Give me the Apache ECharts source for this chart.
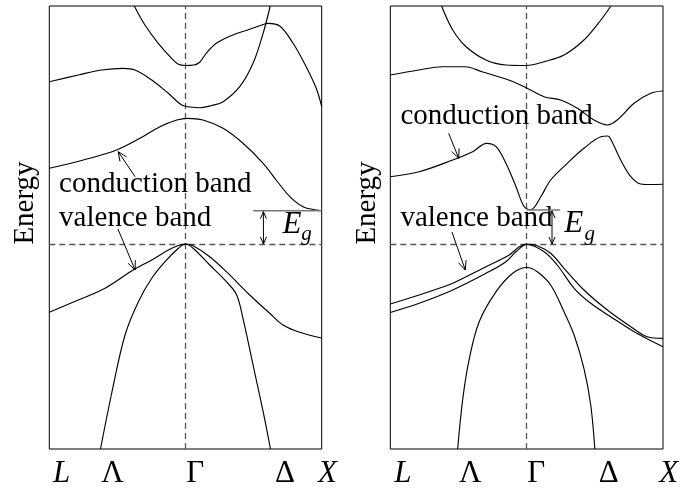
<!DOCTYPE html>
<html>
<head>
<meta charset="utf-8">
<script src="https://cdn.jsdelivr.net/npm/echarts@6/dist/echarts.min.js"></script>
<style>
  html, body { margin: 0; padding: 0; background: #fff; }
  #chart { width: 684px; height: 488px; }
</style>
</head>
<body>
<div id="chart"></div>
<script>
// Band structures along the L – Γ – X path.
// k: fraction of the path (0 = L, 0.5 = Γ, 1 = X); E: energy relative to the valence-band top.

// ---- left panel (direct-gap-like) ----
const leftUpperA = [[0.312,2.38],[0.351,2.19],[0.400,2.007],[0.449,1.857],[0.474,1.797],[0.500,1.785],
  [0.531,1.79],[0.553,1.82],[0.576,1.907],[0.613,2.007],[0.674,2.09],[0.736,2.147],[0.791,2.20],
  [0.803,2.207],[0.846,2.18],[0.895,2.007],[0.943,1.773],[0.980,1.557],[1.0,1.373]];
const leftUpperB = [[0,1.623],[0.1065,1.69],[0.192,1.74],[0.271,1.757],[0.315,1.74],[0.376,1.64],
  [0.437,1.507],[0.486,1.39],[0.517,1.37],[0.553,1.363],[0.597,1.385],[0.638,1.423],[0.699,1.573],
  [0.748,1.807],[0.785,2.107],[0.811,2.38]];
const leftConduction = [[0,0.757],[0.125,0.84],[0.247,0.94],[0.333,1.057],[0.406,1.173],[0.468,1.24],
  [0.508,1.257],[0.564,1.24],[0.638,1.157],[0.711,1.007],[0.785,0.807],[0.833,0.64],[0.883,0.473],
  [0.931,0.373],[0.980,0.34],[1.0,0.333]];
const leftValenceA = [[0,-0.683],[0.1065,-0.56],[0.2045,-0.443],[0.308,-0.26],[0.376,-0.16],[0.437,-0.06],
  [0.474,-0.015],[0.5,0],[0.528,-0.017],[0.589,-0.127],[0.650,-0.277],[0.736,-0.51],[0.809,-0.693],
  [0.858,-0.81],[0.919,-0.883],[1.0,-0.94]];
const leftValenceB = [[0.188,-2.05],[0.230,-1.48],[0.278,-0.91],[0.327,-0.577],[0.376,-0.343],[0.425,-0.177],
  [0.474,-0.043],[0.5,0],[0.528,-0.043],[0.589,-0.21],[0.650,-0.377],[0.687,-0.505],[0.711,-0.743],
  [0.748,-1.21],[0.785,-1.677],[0.812,-2.05]];
const leftGap = 0.333;

// ---- right panel (indirect-gap-like) ----
const rightUpperA = [[0.188,2.38],[0.229,2.14],[0.278,1.973],[0.351,1.84],[0.424,1.79],[0.5,1.785],
  [0.564,1.823],[0.637,1.89],[0.710,2.04],[0.772,2.24],[0.809,2.38]];
const rightUpperB = [[0,1.69],[0.104,1.74],[0.190,1.773],[0.275,1.773],[0.336,1.723],[0.434,1.64],
  [0.5,1.56],[0.564,1.473],[0.625,1.44],[0.686,1.357],[0.747,1.24],[0.796,1.19],[0.832,1.24],
  [0.894,1.407],[0.955,1.507],[1.0,1.53]];
const rightConduction = [[0,0.673],[0.106,0.723],[0.229,0.84],[0.302,0.923],[0.353,1.007],[0.388,0.973],
  [0.424,0.807],[0.461,0.573],[0.491,0.373],[0.516,0.345],[0.552,0.473],[0.588,0.64],[0.649,0.807],
  [0.710,0.957],[0.772,1.073],[0.798,1.08],[0.810,1.04],[0.845,0.84],[0.882,0.673],[0.918,0.60],
  [0.952,0.595],[1.0,0.597]];
const rightValenceA = [[0,-0.60],[0.106,-0.51],[0.190,-0.433],[0.229,-0.393],[0.351,-0.227],[0.436,-0.11],
  [0.473,-0.027],[0.5,0],[0.539,-0.017],[0.588,-0.093],[0.637,-0.243],[0.710,-0.46],[0.796,-0.66],
  [0.882,-0.827],[0.942,-0.927],[1.0,-0.943]];
const rightValenceB = [[0,-0.685],[0.106,-0.593],[0.229,-0.46],[0.351,-0.293],[0.424,-0.177],[0.461,-0.077],
  [0.5,-0.005],[0.564,-0.077],[0.612,-0.21],[0.674,-0.443],[0.735,-0.593],[0.808,-0.727],[0.894,-0.877],
  [1.0,-1.027]];
const rightSplitOff = [[0.247,-2.05],[0.266,-1.543],[0.290,-1.143],[0.326,-0.777],[0.388,-0.477],[0.449,-0.293],
  [0.5,-0.235],[0.539,-0.277],[0.588,-0.41],[0.637,-0.677],[0.674,-0.91],[0.710,-1.243],[0.735,-1.61],
  [0.750,-2.05]];
const rightGap = 0.34;

// ---- tick labels along the k path ----
const kLabels = ['L', 'Λ', 'Γ', 'Δ', 'X'];
const kLabelItalic = [true, false, false, false, true];
const kLabelPosLeft = [0.0455, 0.232, 0.536, 0.865, 1.021];
const kLabelPosRight = [0.046, 0.293, 0.535, 0.801, 1.021];

const axisTitle = 'Energy';
const condText = 'conduction band';
const valText = 'valence band';

const E_MIN = -2.05, E_MAX = 2.38;
const FONT = '"Liberation Serif", "Times New Roman", serif';

const panels = [
  {
    bands: [leftUpperA, leftUpperB, leftConduction, leftValenceA, leftValenceB],
    gap: leftGap, tickPos: kLabelPosLeft,
    condAt: [0.036, 0.50], valAt: [0.036, 0.16],
    condArrow: [[0.315, 0.673], [0.253, 0.923]],
    valArrow: [[0.252, 0.15], [0.315, -0.26]],
    gapLine: [0.748, 1.0], gapArrowK: 0.786,
    eAt: [0.856, 0.09], gAt: [0.925, 0.025],
    titleAt: [-0.087, 0.41]
  },
  {
    bands: [rightUpperA, rightUpperB, rightConduction, rightValenceA, rightValenceB, rightSplitOff],
    gap: rightGap, tickPos: kLabelPosRight,
    condAt: [0.037, 1.18], valAt: [0.037, 0.16],
    condArrow: [[0.214, 1.107], [0.251, 0.857]],
    valArrow: [[0.226, 0.12], [0.275, -0.26]],
    gapLine: [0.5, 0.623], gapArrowK: 0.593,
    eAt: [0.638, 0.10], gAt: [0.712, 0.025],
    titleAt: [-0.085, 0.41]
  }
];

const chart = echarts.init(document.getElementById('chart'), null, { renderer: 'canvas' });

const grids = [
  { left: 49.3, top: 6, width: 272.4, height: 443 },
  { left: 390.3, top: 6, width: 272.7, height: 443 }
].map(g => Object.assign(g, { show: true, borderColor: '#000', borderWidth: 1, backgroundColor: 'transparent' }));

const xAxes = panels.map((p, i) => ({ type: 'value', gridIndex: i, min: 0, max: 1, show: false }));
const yAxes = panels.map((p, i) => ({ type: 'value', gridIndex: i, min: E_MIN, max: E_MAX, show: false }));

const series = [];
panels.forEach((p, i) => {
  p.bands.forEach((band, j) => {
    const s = {
      type: 'line', xAxisIndex: i, yAxisIndex: i, data: band,
      smooth: 0.35, showSymbol: false, symbol: 'none',
      lineStyle: { color: '#000', width: 1.15 }, silent: true, z: 3
    };
    if (j === 0) {
      // Γ point and valence-band top reference lines
      s.markLine = {
        silent: true, symbol: 'none', label: { show: false },
        lineStyle: { color: '#555', width: 1.3, type: [6, 4] },
        data: [{ xAxis: 0.5 }, { yAxis: 0 }],
        z: 2
      };
    }
    series.push(s);
  });
});

chart.setOption({
  animation: false,
  backgroundColor: '#fff',
  grid: grids, xAxis: xAxes, yAxis: yAxes, series: series
});

// ---- annotations: text, arrows, band-gap marker ----
function px(i, k, e) { return chart.convertToPixel({ gridIndex: i }, [k, e]); }

function head(tip, from, len, half) {
  const dx = tip[0] - from[0], dy = tip[1] - from[1];
  const d = Math.hypot(dx, dy), ux = dx / d, uy = dy / d, nx = -uy, ny = ux;
  return [[tip[0] - ux * len + nx * half, tip[1] - uy * len + ny * half], tip,
          [tip[0] - ux * len - nx * half, tip[1] - uy * len - ny * half]];
}

function text(str, pos, size, opts) {
  opts = opts || {};
  return {
    type: 'text', x: pos[0], y: pos[1], rotation: opts.rotation || 0, z: 100, silent: true,
    style: {
      text: str, fill: '#000', fontSize: size, fontFamily: FONT,
      fontStyle: opts.italic ? 'italic' : 'normal',
      textAlign: opts.align || 'left', align: opts.align || 'left',
      textVerticalAlign: 'middle', verticalAlign: 'middle'
    }
  };
}

const TXT = 29, TICK = 31;
const graphics = [];
panels.forEach((p, i) => {
  // baseline anchors are shifted up to the text's middle line
  const mid = (pt, size) => [pt[0], pt[1] - 0.3375 * size];

  graphics.push(text(condText, mid(px(i, p.condAt[0], p.condAt[1]), TXT), TXT));
  graphics.push(text(valText, mid(px(i, p.valAt[0], p.valAt[1]), TXT), TXT));

  const t = px(i, p.titleAt[0], p.titleAt[1]);
  graphics.push(text(axisTitle, t, TXT, { rotation: Math.PI / 2, align: 'center' }));

  // k-path labels under the frame
  const yLab = px(i, 0, E_MIN)[1] + 24.5;
  kLabels.forEach((lab, j) => {
    const x = px(i, p.tickPos[j], 0)[0];
    graphics.push(text(lab, [x, yLab], TICK, { italic: kLabelItalic[j], align: 'center' }));
  });

  // arrows pointing at the bands
  [p.condArrow, p.valArrow].forEach(a => {
    const tail = px(i, a[0][0], a[0][1]), tip = px(i, a[1][0], a[1][1]);
    graphics.push({ type: 'line', z: 100, silent: true,
      shape: { x1: tail[0], y1: tail[1], x2: tip[0], y2: tip[1] },
      style: { stroke: '#000', lineWidth: 1 } });
    graphics.push({ type: 'polyline', z: 100, silent: true,
      shape: { points: head(tip, tail, 9, 4) },
      style: { stroke: '#000', lineWidth: 1, fill: null } });
  });

  // band-gap marker
  const g0 = px(i, p.gapLine[0], p.gap), g1 = px(i, p.gapLine[1], p.gap);
  graphics.push({ type: 'line', z: 100, silent: true,
    shape: { x1: g0[0], y1: g0[1], x2: g1[0], y2: g1[1] },
    style: { stroke: '#777', lineWidth: 1.5 } });
  const aTop = px(i, p.gapArrowK, p.gap), aBot = px(i, p.gapArrowK, 0);
  graphics.push({ type: 'line', z: 100, silent: true,
    shape: { x1: aTop[0], y1: aTop[1] + 1, x2: aBot[0], y2: aBot[1] },
    style: { stroke: '#000', lineWidth: 1 } });
  graphics.push({ type: 'polyline', z: 100, silent: true,
    shape: { points: head([aTop[0], aTop[1] + 1], aBot, 7, 3) },
    style: { stroke: '#000', lineWidth: 1, fill: null } });
  graphics.push({ type: 'polyline', z: 100, silent: true,
    shape: { points: head(aBot, aTop, 7, 3) },
    style: { stroke: '#000', lineWidth: 1, fill: null } });
  graphics.push(text('E', mid(px(i, p.eAt[0], p.eAt[1]), TICK), TICK, { italic: true }));
  graphics.push(text('g', mid(px(i, p.gAt[0], p.gAt[1]), 21), 21, { italic: true }));
});

chart.setOption({ graphic: graphics });
</script>
</body>
</html>
